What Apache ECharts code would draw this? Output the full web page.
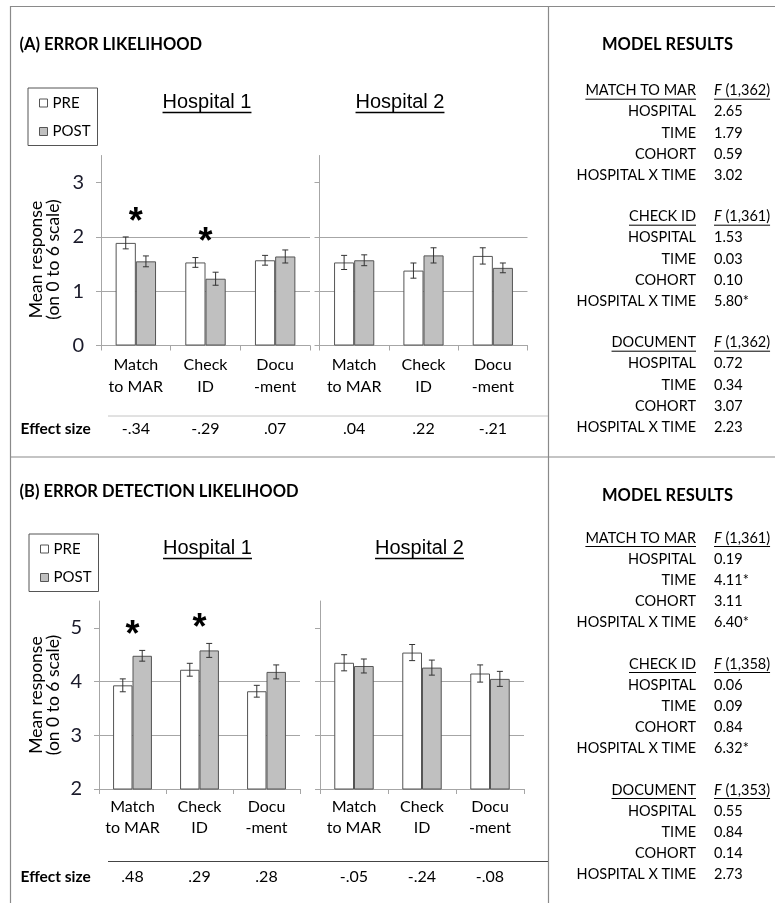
<!DOCTYPE html>
<html>
<head>
<meta charset="utf-8">
<script src="https://cdn.jsdelivr.net/npm/echarts@6/dist/echarts.min.js"></script>
<style>
  html, body { margin: 0; padding: 0; background: #fff; }
  #chart { width: 775px; height: 903px; }
</style>
</head>
<body>
<div id="chart"></div>
<script>
// ---------- data ----------
const categories = ['Match\nto MAR', 'Check\nID', 'Docu\n-ment'];
const hospitals = ['Hospital 1', 'Hospital 2'];
const legendNames = ['PRE', 'POST'];

// (A) error likelihood, mean response on 0-6 scale
const aH1Pre = [1.89, 1.53, 1.57];
const aH1PreErr = [0.11, 0.09, 0.09];
const aH1Post = [1.55, 1.23, 1.64];
const aH1PostErr = [0.10, 0.12, 0.12];
const aH2Pre = [1.53, 1.38, 1.65];
const aH2PreErr = [0.13, 0.14, 0.15];
const aH2Post = [1.57, 1.66, 1.43];
const aH2PostErr = [0.10, 0.14, 0.09];
const aH1Sig = [true, true, false];
const aH2Sig = [false, false, false];
const aH1Effect = ['-.34', '-.29', '.07'];
const aH2Effect = ['.04', '.22', '-.21'];
const aTicks = [0, 1, 2, 3];

// (B) error detection likelihood
const bH1Pre = [3.93, 4.22, 3.82];
const bH1PreErr = [0.12, 0.12, 0.11];
const bH1Post = [4.48, 4.58, 4.18];
const bH1PostErr = [0.10, 0.13, 0.13];
const bH2Pre = [4.35, 4.54, 4.15];
const bH2PreErr = [0.15, 0.15, 0.16];
const bH2Post = [4.29, 4.26, 4.05];
const bH2PostErr = [0.13, 0.14, 0.14];
const bH1Sig = [true, true, false];
const bH2Sig = [false, false, false];
const bH1Effect = ['.48', '.29', '.28'];
const bH2Effect = ['-.05', '-.24', '-.08'];
const bTicks = [2, 3, 4, 5];

// model results (F statistics)
const modelTerms = ['HOSPITAL', 'TIME', 'COHORT', 'HOSPITAL X TIME'];
const modelMeasures = ['MATCH TO MAR', 'CHECK ID', 'DOCUMENT'];
const aModelDf = ['(1,362)', '(1,361)', '(1,362)'];
const aMatchF = ['2.65', '1.79', '0.59', '3.02'];
const aCheckF = ['1.53', '0.03', '0.10', '5.80*'];
const aDocF = ['0.72', '0.34', '3.07', '2.23'];
const bModelDf = ['(1,361)', '(1,358)', '(1,353)'];
const bMatchF = ['0.19', '4.11*', '3.11', '6.40*'];
const bCheckF = ['0.06', '0.09', '0.84', '6.32*'];
const bDocF = ['0.55', '0.84', '0.14', '2.73'];

// ---------- styling / layout ----------
const FONT = 'Lato';
const INK = '#000';
const AXIS = '#a6a6a6';
const FRAME = '#8a8a8a';
const BAR_EDGE = '#555';
const POST_FILL = '#c0c0c0';
const BAR_FRAC = 0.29;

const panels = [
  { grid: { left: 101, top: 155.5, width: 209, height: 190 }, pre: aH1Pre, preErr: aH1PreErr, post: aH1Post, postErr: aH1PostErr, sig: aH1Sig, eff: aH1Effect, ticks: aTicks, min: 0, max: 3.5, labels: true, name: true, catMargin: 9, effOffset: 73, namePad: [0, 18, 0, 0] },
  { grid: { left: 319.5, top: 155.5, width: 208, height: 190 }, pre: aH2Pre, preErr: aH2PreErr, post: aH2Post, postErr: aH2PostErr, sig: aH2Sig, eff: aH2Effect, ticks: aTicks, min: 0, max: 3.5, labels: false, name: false, catMargin: 9, effOffset: 73 },
  { grid: { left: 99, top: 601, width: 201, height: 188 }, pre: bH1Pre, preErr: bH1PreErr, post: bH1Post, postErr: bH1PostErr, sig: bH1Sig, eff: bH1Effect, ticks: bTicks, min: 2, max: 5.5, labels: true, name: true, catMargin: 7, effOffset: 77.5, namePad: [0, 0, 0, 0] },
  { grid: { left: 320, top: 601, width: 204, height: 188 }, pre: bH2Pre, preErr: bH2PreErr, post: bH2Post, postErr: bH2PostErr, sig: bH2Sig, eff: bH2Effect, ticks: bTicks, min: 2, max: 5.5, labels: false, name: false, catMargin: 7, effOffset: 77.5 }
];

const grids = [], xAxes = [], yAxes = [], series = [];

panels.forEach((p, g) => {
  grids.push(Object.assign({ containLabel: false }, p.grid));

  xAxes.push({
    type: 'category', gridIndex: g, data: categories,
    axisLine: { show: true, lineStyle: { color: AXIS, width: 1 } },
    axisTick: { show: true, length: 5, lineStyle: { color: AXIS } },
    axisLabel: { interval: 0, margin: p.catMargin, fontFamily: FONT, fontSize: 16, lineHeight: 21.5, color: INK },
    splitLine: { show: false }
  });
  // effect sizes printed under each category
  xAxes.push({
    type: 'category', gridIndex: g, data: categories, position: 'bottom', offset: p.effOffset,
    axisLine: { show: false }, axisTick: { show: false }, splitLine: { show: false },
    axisLabel: { interval: 0, margin: 0, fontFamily: FONT, fontSize: 16, lineHeight: 20, color: INK,
      formatter: (v, i) => p.eff[i] }
  });

  yAxes.push({
    type: 'value', gridIndex: g, min: p.min, max: p.max, interval: 1,
    name: p.name ? 'Mean response\n(on 0 to 6 scale)' : '',
    nameLocation: 'middle', nameRotate: 90, nameGap: g === 0 ? 39.5 : 37.5,
    nameTextStyle: { fontFamily: FONT, fontSize: 17.5, lineHeight: 17, color: INK, padding: p.namePad || 0 },
    axisLine: { show: true, lineStyle: { color: AXIS, width: 1 } },
    axisTick: { show: true, length: 5, lineStyle: { color: AXIS }, customValues: p.ticks },
    axisLabel: { show: p.labels, customValues: p.ticks, margin: 17, fontFamily: FONT, fontSize: 20, color: '#1a1a2a',
      formatter: v => (p.ticks.indexOf(v) >= 0 ? String(v) : '') },
    splitLine: { show: true, showMaxLine: false, lineStyle: { color: AXIS, width: 1 } }
  });

  const xi = 2 * g;
  series.push({
    type: 'bar', name: 'PRE', xAxisIndex: xi, yAxisIndex: g, data: p.pre,
    barWidth: (BAR_FRAC * 100) + '%', barGap: '0%',
    itemStyle: { color: '#fff', borderColor: BAR_EDGE, borderWidth: 1 }
  });
  series.push({
    type: 'bar', name: 'POST', xAxisIndex: xi, yAxisIndex: g, data: p.post,
    barWidth: (BAR_FRAC * 100) + '%', barGap: '0%',
    itemStyle: { color: POST_FILL, borderColor: BAR_EDGE, borderWidth: 1 }
  });

  // standard-error whiskers
  [[p.pre, p.preErr, -1], [p.post, p.postErr, 1]].forEach(([vals, errs, side]) => {
    series.push({
      type: 'custom', name: 'err', xAxisIndex: xi, yAxisIndex: g, z: 5, silent: true,
      data: vals.map((v, i) => [i, v - errs[i], v + errs[i]]),
      encode: { x: 0, y: [1, 2] },
      renderItem(params, api) {
        const i = api.value(0);
        const lo = api.coord([i, api.value(1)]);
        const hi = api.coord([i, api.value(2)]);
        const band = api.size([1, 0])[0];
        const x = lo[0] + side * band * BAR_FRAC / 2;
        const c = 3;
        const st = { stroke: '#333', lineWidth: 1 };
        return { type: 'group', children: [
          { type: 'line', shape: { x1: x, y1: lo[1], x2: x, y2: hi[1] }, style: st },
          { type: 'line', shape: { x1: x - c, y1: lo[1], x2: x + c, y2: lo[1] }, style: st },
          { type: 'line', shape: { x1: x - c, y1: hi[1], x2: x + c, y2: hi[1] }, style: st }
        ] };
      }
    });
  });

  // significance markers above the taller whisker
  const sigData = [];
  p.sig.forEach((s, i) => {
    if (s) sigData.push([i, Math.max(p.pre[i] + p.preErr[i], p.post[i] + p.postErr[i])]);
  });
  series.push({
    type: 'custom', name: 'sig', xAxisIndex: xi, yAxisIndex: g, z: 6, silent: true,
    data: sigData,
    renderItem(params, api) {
      const pt = api.coord([api.value(0), api.value(1)]);
      return { type: 'text', x: pt[0], y: pt[1] - 14,
        style: { text: '*', fontFamily: 'Liberation Sans', fontWeight: 'bold', fontSize: 36,
          fill: '#000', align: 'center', verticalAlign: 'middle' } };
    }
  });
});

// ---------- text helpers ----------
const mctx = document.createElement('canvas').getContext('2d');
function measure(str, size, weight, style) {
  mctx.font = `${style || 'normal'} ${weight || 'normal'} ${size}px ${FONT}`;
  return mctx.measureText(str).width;
}
function txt(str, x, y, opt) {
  opt = opt || {};
  return { type: 'text', x, y, silent: true, style: {
    text: str, fontFamily: opt.family || FONT, fontSize: opt.size || 14, fontWeight: opt.weight || 'normal',
    fontStyle: opt.style || 'normal', fill: opt.fill || INK, align: opt.align || 'left', verticalAlign: 'middle',
    rich: opt.rich } };
}
function hline(x1, x2, y, color, w) {
  return { type: 'line', silent: true, shape: { x1, y1: y, x2, y2: y }, style: { stroke: color, lineWidth: w || 1 } };
}
function vline(x, y1, y2, color, w) {
  return { type: 'line', silent: true, shape: { x1: x, y1, x2: x, y2 }, style: { stroke: color, lineWidth: w || 1 } };
}

const graphics = [];
// frame
graphics.push(hline(10, 775, 6.5, FRAME, 1.2));
graphics.push(vline(10.5, 6, 903, FRAME, 1.2));
graphics.push(vline(548.5, 6, 903, FRAME, 1.2));
graphics.push(hline(10, 775, 457, FRAME, 1.2));

// panel titles
graphics.push(txt('(A) ERROR LIKELIHOOD', 19.5, 45, { size: 16.5, weight: 'bold' }));
graphics.push(txt('(B) ERROR DETECTION LIKELIHOOD', 19.5, 492, { size: 16.5, weight: 'bold' }));

// hospital headings, underlined
function heading(str, cx, cy) {
  mctx.font = '20px "Liberation Sans"';
  const w = mctx.measureText(str).width;
  graphics.push(txt(str, cx, cy, { family: 'Liberation Sans', size: 20, align: 'center', fill: '#000' }));
  graphics.push(hline(cx - w / 2, cx + w / 2, cy + 10.5, '#000', 1.3));
}
heading(hospitals[0], 207, 102);
heading(hospitals[1], 400, 102);
heading(hospitals[0], 207.5, 548);
heading(hospitals[1], 419.5, 548);

// effect size rows
graphics.push(hline(108, 548, 416, '#c4c4c4', 1));
graphics.push(hline(108, 548, 861.5, '#444', 1));
graphics.push(txt('Effect size', 20.5, 428.5, { size: 15.5, weight: 'bold' }));
graphics.push(txt('Effect size', 20.5, 877, { size: 15.5, weight: 'bold' }));

// model results tables
function modelTable(titleY, y0, dfs, cols) {
  graphics.push(txt('MODEL RESULTS', 667.5, titleY, { size: 16.5, weight: 'bold', align: 'center' }));
  const xr = 696, xv = 714, fs = 14.5;
  modelMeasures.forEach((m, k) => {
    const yh = y0 + k * 126;
    const wm = measure(m, fs);
    graphics.push(txt(m, xr, yh, { size: fs, align: 'right' }));
    graphics.push(hline(xr - wm, xr, yh + 8.5, '#000', 1));
    const wf = measure('F', fs, 'normal', 'italic') + measure(' ' + dfs[k], fs);
    graphics.push(txt('{i|F} ' + dfs[k], xv, yh, { size: fs,
      rich: { i: { fontStyle: 'italic', fontFamily: FONT, fontSize: fs, fill: INK } } }));
    graphics.push(hline(xv, xv + wf, yh + 8.5, '#000', 1));
    modelTerms.forEach((t, r) => {
      const y = yh + 21.1 * (r + 1);
      graphics.push(txt(t, xr, y, { size: fs, align: 'right' }));
      graphics.push(txt(cols[k][r], xv, y, { size: fs }));
    });
  });
}
modelTable(45, 90.7, aModelDf, [aMatchF, aCheckF, aDocF]);
modelTable(495.5, 538, bModelDf, [bMatchF, bCheckF, bDocF]);

const legendBase = {
  orient: 'vertical', data: legendNames, icon: 'rect', itemWidth: 8, itemHeight: 8, itemGap: 10.5,
  borderColor: '#555', borderWidth: 1, padding: [6, 7, 5, 11], selectedMode: false,
  textStyle: { fontFamily: FONT, fontSize: 15, lineHeight: 18, color: INK },
  itemStyle: { borderColor: '#555', borderWidth: 1 }
};

const chart = echarts.init(document.getElementById('chart'), null, { renderer: 'canvas' });
chart.setOption({
  animation: false,
  backgroundColor: '#fff',
  legend: [
    Object.assign({ left: 28, top: 88 }, legendBase),
    Object.assign({ left: 29, top: 534 }, legendBase)
  ],
  grid: grids,
  xAxis: xAxes,
  yAxis: yAxes,
  series: series,
  graphic: { elements: graphics }
});
</script>
</body>
</html>
